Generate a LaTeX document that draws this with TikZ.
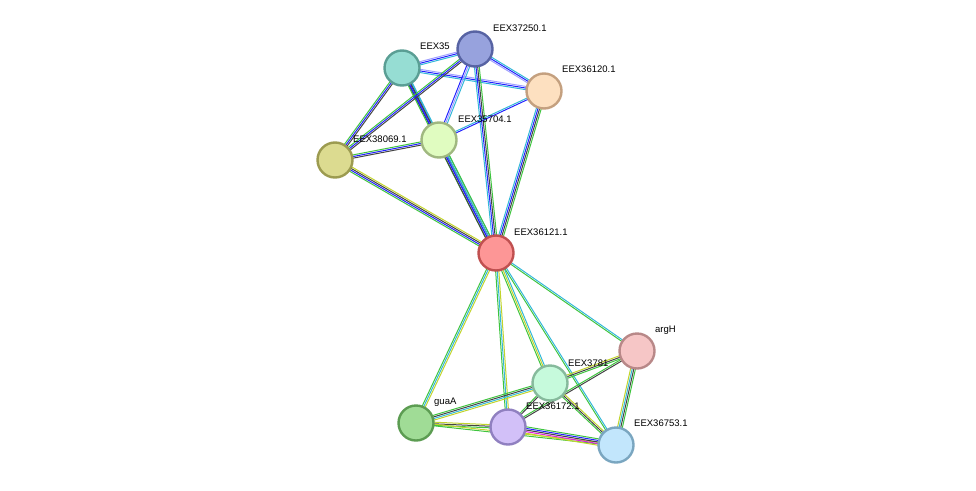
\documentclass[tikz,border=0pt]{standalone}
\usepackage{fontspec}
\setmainfont{Liberation Sans}
\usetikzlibrary{calc}
\definecolor{cG}{HTML}{3FC43F}
\definecolor{cB}{HTML}{2222FF}
\definecolor{cC}{HTML}{33B8D8}
\definecolor{cK}{HTML}{444444}
\definecolor{cY}{HTML}{C2D42C}
\definecolor{cP}{HTML}{A0A0FF}
\definecolor{cM}{HTML}{E020E0}
\definecolor{fA}{RGB}{150,221,211}\definecolor{dA}{RGB}{90,158,148}
\definecolor{fB}{RGB}{151,162,221}\definecolor{dB}{RGB}{87,99,163}
\definecolor{fC}{RGB}{253,224,192}\definecolor{dC}{RGB}{196,160,127}
\definecolor{fD}{RGB}{224,252,192}\definecolor{dD}{RGB}{160,184,128}
\definecolor{fE}{RGB}{220,219,144}\definecolor{dE}{RGB}{156,155,80}
\definecolor{fF}{RGB}{253,150,150}\definecolor{dF}{RGB}{192,80,80}
\definecolor{fG}{RGB}{246,198,198}\definecolor{dG}{RGB}{184,136,136}
\definecolor{fH}{RGB}{198,250,220}\definecolor{dH}{RGB}{134,186,156}
\definecolor{fI}{RGB}{160,220,150}\definecolor{dI}{RGB}{92,156,82}
\definecolor{fJ}{RGB}{210,192,248}\definecolor{dJ}{RGB}{144,128,192}
\definecolor{fK}{RGB}{194,230,252}\definecolor{dK}{RGB}{122,166,192}
\tikzset{prot/.style={circle,minimum size=35pt,inner sep=0pt,line width=2.4pt},
 lab/.style={anchor=west,font=\fontsize{9.5}{11}\selectfont,inner sep=0pt}}
\newcommand\sedge[3]{%
 \foreach \c [count=\i] in {#3} {\xdef\nn{\i}}%
 \foreach \c [count=\i] in {#3} {%
   \pgfmathsetmacro\o{(\i-(\nn+1)/2)*1.6}%
   \draw[\c,line width=1pt] ($(#1)!\o pt!90:(#2)$) -- ($(#2)!\o pt!-90:(#1)$);}}
\begin{document}
\begin{tikzpicture}[x=1pt,y=-1pt]
\useasboundingbox (0,0) rectangle (976,490);
\coordinate (A) at (402,68);
\coordinate (B) at (475,49);
\coordinate (C) at (544,91);
\coordinate (D) at (439,140);
\coordinate (E) at (335,160);
\coordinate (F) at (496,253);
\coordinate (G) at (637,351);
\coordinate (H) at (550,383);
\coordinate (I) at (416,423);
\coordinate (J) at (508,427);
\coordinate (K) at (616,445);
\sedge{A}{B}{cC,cB,cP}
\sedge{A}{C}{cC,cB,cP}
\sedge{A}{E}{cG,cB,cK}
\sedge{A}{D}{cK,cB,cC}
\sedge{A}{F}{cG,cB,cK,cC}
\sedge{B}{C}{cP,cB,cC}
\sedge{B}{D}{cB,cP,cC}
\sedge{B}{E}{cG,cB,cK}
\sedge{B}{F}{cC,cB,cK,cG}
\sedge{C}{D}{cC,cB}
\sedge{C}{F}{cC,cB,cK,cG}
\sedge{D}{E}{cG,cB,cK}
\sedge{D}{F}{cK,cB,cC,cG}
\sedge{E}{F}{cG,cB,cK,cY}
\sedge{F}{G}{cG,cC}
\sedge{F}{I}{cG,cC,cY}
\sedge{F}{J}{cG,cC,cY}
\sedge{F}{H}{cG,cY,cC}
\sedge{F}{K}{cG,cC}
\sedge{G}{H}{cY,cK,cG}
\sedge{G}{K}{cY,cC,cK,cG}
\sedge{G}{J}{cG,cK}
\sedge{H}{I}{cG,cK,cC,cY}
\sedge{H}{J}{cG,cK}
\sedge{H}{K}{cG,cK,cY}
\sedge{I}{J}{cG,cK,cY}
\sedge{I}{K}{cG,cY}
\sedge{J}{K}{cY,cM,cK,cB,cG}
\node[lab] (lA) at (420,46) {EEX35};
\node[lab] (lB) at (493,28) {EEX37250.1};
\node[lab] (lC) at (562,69) {EEX36120.1};
\node[lab] (lD) at (458,119) {EEX35704.1};
\node[lab] (lE) at (353,139) {EEX38069.1};
\node[lab] (lF) at (514,232) {EEX36121.1};
\node[lab] (lG) at (655,330) {argH};
\node[lab] (lH) at (568,363) {EEX3781};
\node[lab] (lI) at (434,402) {guaA};
\node[lab] (lJ) at (526,406) {EEX36172.1};
\node[lab] (lK) at (634,423) {EEX36753.1};
\foreach \n in {A,B,C,D,E,F,G,H,I,J,K}
  \node[prot,fill=f\n,draw=d\n] (n\n) at (\n) {};
\end{tikzpicture}
\end{document}
